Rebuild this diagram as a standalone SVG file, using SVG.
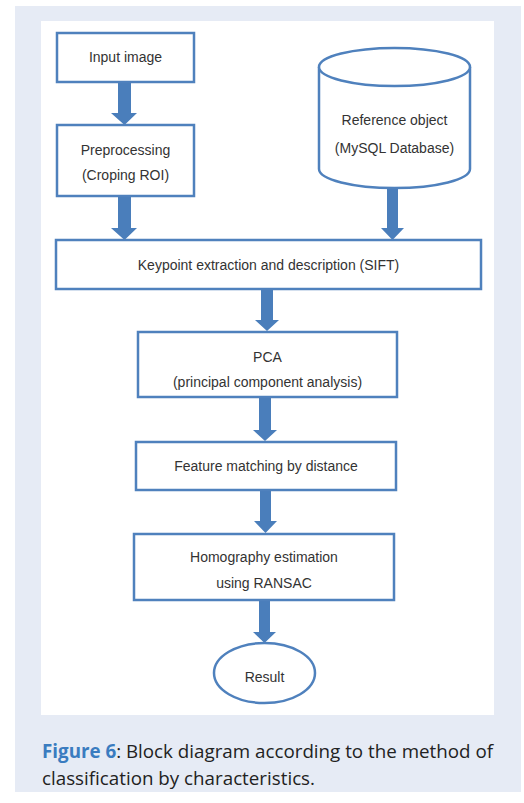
<svg xmlns="http://www.w3.org/2000/svg" width="524" height="803" viewBox="0 0 524 803">
<style>
.box{fill:#fff;stroke:#4f81bd;stroke-width:2.5}
.t{font-family:"Liberation Sans",Arial,sans-serif;font-size:14px;fill:#333;text-anchor:middle}
.arr{fill:#4a7ebb}
.cap{font-family:"Open Sans","Noto Sans",sans-serif;font-size:19px;fill:#222}
</style>
<rect x="15" y="6" width="506" height="786" fill="#e6ebf5"/>
<rect x="41" y="21" width="453" height="694" fill="#fff"/>
<g id="connectors">
<path class="arr" d="M118,82 H131 V113 H137 L124.5,125 L111,113 H118 Z"/>
<path class="arr" d="M118,196 H131 V228 H137 L124.5,240 L111,228 H118 Z"/>
<path class="arr" d="M387,188 H398 V228 H404 L392.5,240 L381,228 H387 Z"/>
<path class="arr" d="M261,289 H273 V320 H279 L267,331 L255,320 H261 Z"/>
<path class="arr" d="M259,397 H271 V430 H277 L265,441 L253,430 H259 Z"/>
<path class="arr" d="M260,490 H271 V521 H277 L265.5,533 L254,521 H260 Z"/>
<path class="arr" d="M259,600 H270 V632 H276 L264.5,643 L253,632 H259 Z"/>
</g>
<g id="input">
<rect class="box" x="57" y="33" width="137" height="49"/>
<text class="t" x="125.5" y="62">Input image</text>
</g>
<g id="preprocessing">
<rect class="box" x="57" y="125" width="137" height="71"/>
<text class="t" x="125.5" y="155">Preprocessing</text>
<text class="t" x="125.5" y="180">(Croping ROI)</text>
</g>
<g id="reference">
<path class="box" d="M319,67 V169 A75.5,19 0 0 0 470,169 V67"/>
<ellipse class="box" cx="394.5" cy="67" rx="75.5" ry="19"/>
<text class="t" x="394.5" y="125">Reference object</text>
<text class="t" x="394.5" y="153">(MySQL Database)</text>
</g>
<g id="keypoint">
<rect class="box" x="56" y="240" width="425" height="49"/>
<text class="t" x="268.5" y="270">Keypoint extraction and description (SIFT)</text>
</g>
<g id="pca">
<rect class="box" x="138" y="332" width="259" height="65"/>
<text class="t" x="267.5" y="362">PCA</text>
<text class="t" x="267.5" y="387">(principal component analysis)</text>
</g>
<g id="matching">
<rect class="box" x="136" y="442" width="260" height="48"/>
<text class="t" x="266" y="471">Feature matching by distance</text>
</g>
<g id="homography">
<rect class="box" x="134" y="534" width="260" height="66"/>
<text class="t" x="264" y="562">Homography estimation</text>
<text class="t" x="264" y="588">using RANSAC</text>
</g>
<g id="result">
<ellipse class="box" cx="264.5" cy="673" rx="50.5" ry="30"/>
<text class="t" x="264.5" y="682">Result</text>
</g>
<text class="cap" x="42" y="758" textLength="451" lengthAdjust="spacingAndGlyphs"><tspan font-weight="bold" fill="#3a7cc0">Figure 6</tspan>: Block diagram according to the method of</text>
<text class="cap" x="42" y="785" textLength="273" lengthAdjust="spacingAndGlyphs">classification by characteristics.</text>
</svg>
